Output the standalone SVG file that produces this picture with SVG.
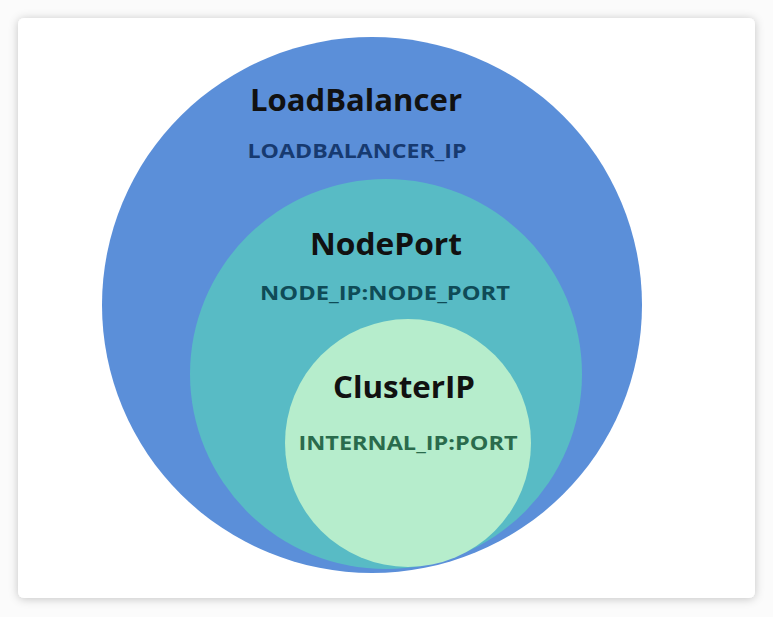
<svg xmlns="http://www.w3.org/2000/svg" width="773" height="617" viewBox="0 0 773 617">
<defs>
<filter id="shadow" x="-10%" y="-10%" width="120%" height="120%">
<feDropShadow dx="0" dy="1" stdDeviation="5" flood-color="#000" flood-opacity="0.22"/>
</filter>
</defs>
<style>
.title{font-family:"Open Sans","Liberation Sans",sans-serif;font-weight:700;font-size:31px;fill:#111;text-anchor:middle}
.sub{font-family:"Open Sans","Liberation Sans",sans-serif;font-weight:700;font-size:19px;text-anchor:middle}
</style>
<rect width="773" height="617" fill="#fbfbfb"/>
<rect x="18" y="18" width="737" height="580" rx="6" fill="#ffffff" filter="url(#shadow)"/>
<g id="loadbalancer">
<ellipse cx="372" cy="305" rx="270" ry="268" fill="#5b8fd9"/>
<text class="title" x="356" y="111" textLength="212" lengthAdjust="spacingAndGlyphs">LoadBalancer</text>
<text class="sub" x="357" y="158" fill="#173a70" textLength="219" lengthAdjust="spacingAndGlyphs">LOADBALANCER_IP</text>
</g>
<g id="nodeport">
<ellipse cx="386" cy="374" rx="196" ry="195" fill="#58bbc5"/>
<text class="title" x="386" y="255" textLength="152" lengthAdjust="spacingAndGlyphs">NodePort</text>
<text class="sub" x="385" y="300" fill="#0f4b57" textLength="250" lengthAdjust="spacingAndGlyphs">NODE_IP:NODE_PORT</text>
</g>
<g id="clusterip">
<ellipse cx="408" cy="443" rx="123" ry="124" fill="#b6edcc"/>
<text class="title" x="404" y="398" textLength="142" lengthAdjust="spacingAndGlyphs">ClusterIP</text>
<text class="sub" x="408" y="450" fill="#2a6b4c" textLength="219" lengthAdjust="spacingAndGlyphs">INTERNAL_IP:PORT</text>
</g>
<g id="connectors"/>
</svg>
